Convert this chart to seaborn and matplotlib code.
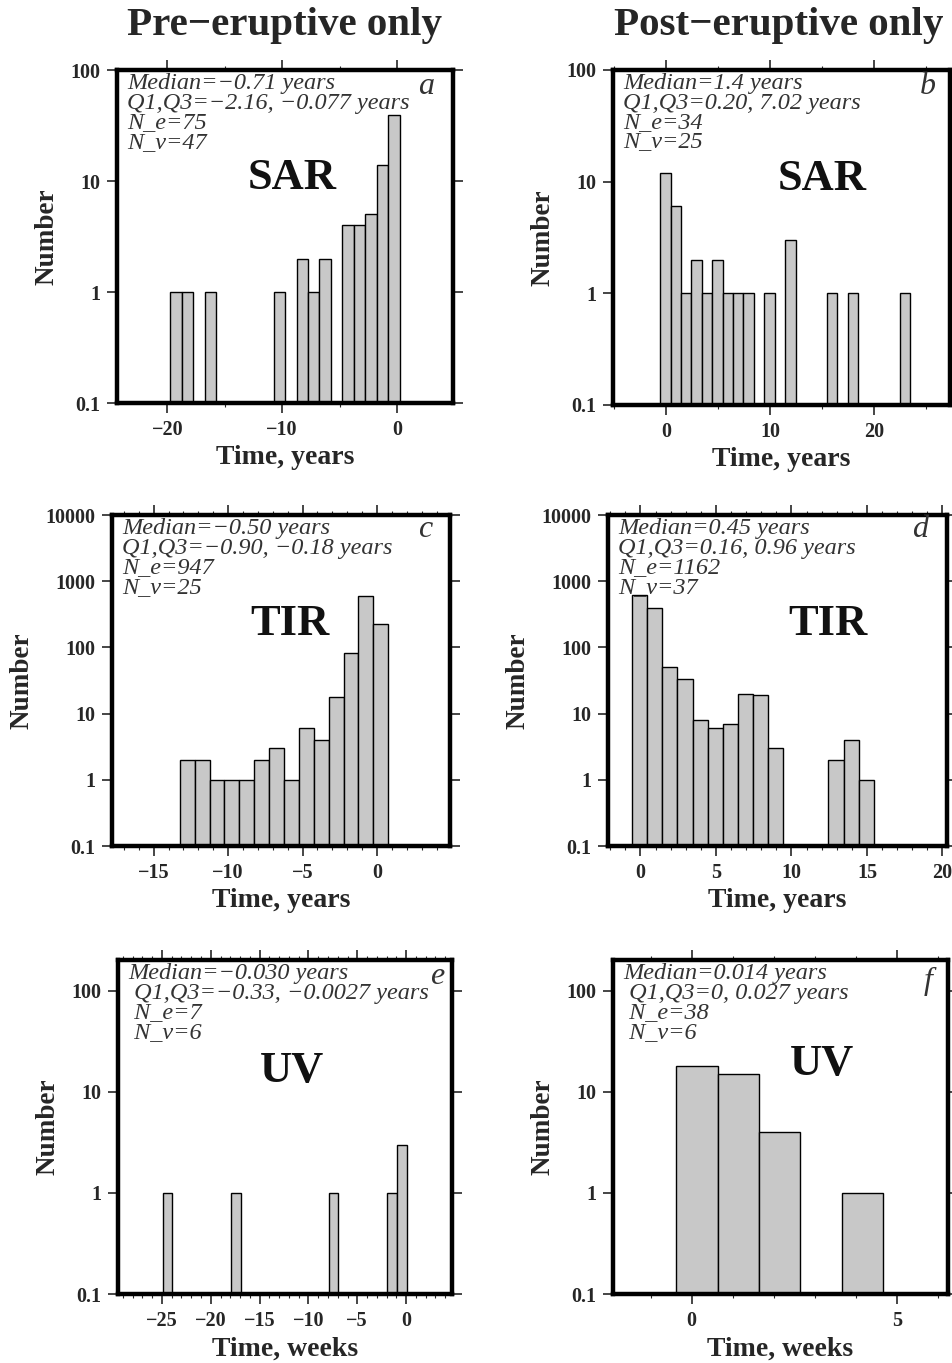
import matplotlib.pyplot as plt
import pandas as pd
import seaborn as sns
from matplotlib.ticker import FixedLocator, MultipleLocator, NullLocator, FuncFormatter

# Histogram data: first bin edge, bin width, counts per bin (zeros = empty bins)
sar_pre_start, sar_pre_width = -19.75, 1.0
sar_pre_counts = [1, 1, 0, 1, 0, 0, 0, 0, 0, 1, 0, 2, 1, 2, 0, 4, 4, 5, 14, 39]

sar_post_start, sar_post_width = -0.55, 1.0
sar_post_counts = [12, 6, 1, 2, 1, 2, 1, 1, 1, 0, 1, 0, 3, 0, 0, 0, 1, 0, 1, 0, 0, 0, 0, 1]

tir_pre_start, tir_pre_width = -13.25, 1.0
tir_pre_counts = [2, 2, 1, 1, 1, 2, 3, 1, 6, 4, 18, 82, 600, 224]

tir_post_start, tir_post_width = -0.55, 1.0
tir_post_counts = [610, 398, 51, 33, 8, 6, 7, 20, 19, 3, 0, 0, 0, 2, 4, 1]

uv_pre_start, uv_pre_width = -24.93, 1.0
uv_pre_counts = [1, 0, 0, 0, 0, 0, 0, 1, 0, 0, 0, 0, 0, 0, 0, 0, 0, 1, 0, 0, 0, 0, 0, 1, 3]

uv_post_start, uv_post_width = -0.38, 1.01
uv_post_counts = [18, 15, 4, 0, 1]

# Statistics text
sar_pre_stats = ["Median=−0.71 years", "Q1,Q3=−2.16, −0.077 years", "N_e=75", "N_v=47"]
sar_post_stats = ["Median=1.4 years", "Q1,Q3=0.20, 7.02 years", "N_e=34", "N_v=25"]
tir_pre_stats = ["Median=−0.50 years", "Q1,Q3=−0.90, −0.18 years", "N_e=947", "N_v=25"]
tir_post_stats = ["Median=0.45 years", "Q1,Q3=0.16, 0.96 years", "N_e=1162", "N_v=37"]
uv_pre_stats = ["Median=−0.030 years", " Q1,Q3=−0.33, −0.0027 years", " N_e=7", " N_v=6"]
uv_post_stats = ["Median=0.014 years", " Q1,Q3=0, 0.027 years", " N_e=38", " N_v=6"]

sns.set_style("ticks")
plt.rcParams['font.family'] = ['Liberation Serif', 'DejaVu Serif']
plt.rcParams['axes.unicode_minus'] = True

fig = plt.figure(figsize=(9.53, 13.63), dpi=100)

panels = [
    # counts, start, width, stats, sensor, letter, xlim, ylim, xmajor, xminor, xlabel, rect, sensor pos, letter pos
    (sar_pre_counts, sar_pre_start, sar_pre_width, sar_pre_stats, 'SAR', 'a', (-24.4, 4.9), (0.1, 100), 10, 5,
     'Time, years', [0.1228, 0.7043, 0.3526, 0.2443], (0.52, 0.675), (0.92, 0.95)),
    (sar_post_counts, sar_post_start, sar_post_width, sar_post_stats, 'SAR', 'b', (-5.1, 27.3), (0.1, 100), 10, 5,
     'Time, years', [0.6432, 0.7029, 0.3536, 0.2458], (0.62, 0.675), (0.935, 0.95)),
    (tir_pre_counts, tir_pre_start, tir_pre_width, tir_pre_stats, 'TIR', 'c', (-17.8, 4.9), (0.1, 10000), 5, 1,
     'Time, years', [0.1175, 0.3793, 0.3547, 0.2428], (0.525, 0.672), (0.925, 0.955)),
    (tir_post_counts, tir_post_start, tir_post_width, tir_post_stats, 'TIR', 'd', (-2.15, 20.3), (0.1, 10000), 5, 1,
     'Time, years', [0.638, 0.3793, 0.3557, 0.2428], (0.65, 0.672), (0.92, 0.955)),
    (uv_pre_counts, uv_pre_start, uv_pre_width, uv_pre_stats, 'UV', 'e', (-29.5, 4.7), (0.1, 200), 5, 1,
     'Time, weeks', [0.1238, 0.0506, 0.3505, 0.245], (0.52, 0.668), (0.955, 0.95)),
    (uv_post_counts, uv_post_start, uv_post_width, uv_post_stats, 'UV', 'f', (-1.92, 6.25), (0.1, 200), 5, 1,
     'Time, weeks', [0.6432, 0.0506, 0.3515, 0.245], (0.625, 0.69), (0.94, 0.935)),
]

for counts, start, width, stats, sensor, letter, xlim, ylim, xmaj, xmin, xlabel, rect, spos, lpos in panels:
    ax = fig.add_axes(rect)
    ax.set_yscale('log')
    edges = [start + width * k for k in range(len(counts) + 1)]
    df = pd.DataFrame({
        'mid': [(edges[k] + edges[k + 1]) / 2 for k in range(len(counts))],
        'count': counts,
    })
    sns.histplot(data=df, x='mid', weights='count', bins=edges, ax=ax, color='#c8c8c8', alpha=1,
                 edgecolor='black', linewidth=1.0)
    ax.set_xlim(*xlim)
    ax.set_ylim(*ylim)

    decades = [10.0 ** k for k in range(-1, 5) if 10.0 ** k <= ylim[1] * 1.001]
    ax.yaxis.set_major_locator(FixedLocator(decades))
    ax.yaxis.set_minor_locator(NullLocator())
    ax.yaxis.set_major_formatter(FuncFormatter(lambda v, p: '0.1' if v < 0.5 else '%d' % round(v)))
    ax.xaxis.set_major_locator(MultipleLocator(xmaj))
    ax.xaxis.set_minor_locator(MultipleLocator(xmin))
    ax.xaxis.set_major_formatter(FuncFormatter(lambda v, p: ('%d' % round(v)).replace('-', '−')))

    ax.tick_params(which='both', direction='out', top=True, right=True, labeltop=False, labelright=False)
    ax.tick_params(which='major', length=7, width=1.2, labelsize=14.5, pad=5)
    ax.tick_params(which='minor', length=3, width=0.8)
    for lab in ax.get_xticklabels() + ax.get_yticklabels():
        lab.set_fontweight('bold')
    for sp in ax.spines.values():
        sp.set_linewidth(3.2)
        sp.set_color('black')

    ax.set_xlabel(xlabel, fontsize=20, fontweight='bold', labelpad=4)
    ax.set_ylabel('Number', fontsize=19.5, fontweight='bold', labelpad=8)

    ax.text(0.03, 0.99, '\n'.join(stats), transform=ax.transAxes, ha='left', va='top',
            fontsize=17.5, style='italic', color='#333333', linespacing=0.9)
    ax.text(lpos[0], lpos[1], letter, transform=ax.transAxes, ha='center', va='center',
            fontsize=23, style='italic', color='#333333')
    ax.text(spos[0], spos[1], sensor, transform=ax.transAxes, ha='center', va='center',
            fontsize=32, fontweight='bold', color='#111111')

fig.text(0.299, 0.981, 'Pre−eruptive only', ha='center', va='center', fontsize=29.5, fontweight='bold')
fig.text(0.8175, 0.981, 'Post−eruptive only', ha='center', va='center', fontsize=29.5, fontweight='bold')

plt.savefig('out.png', dpi=100)
